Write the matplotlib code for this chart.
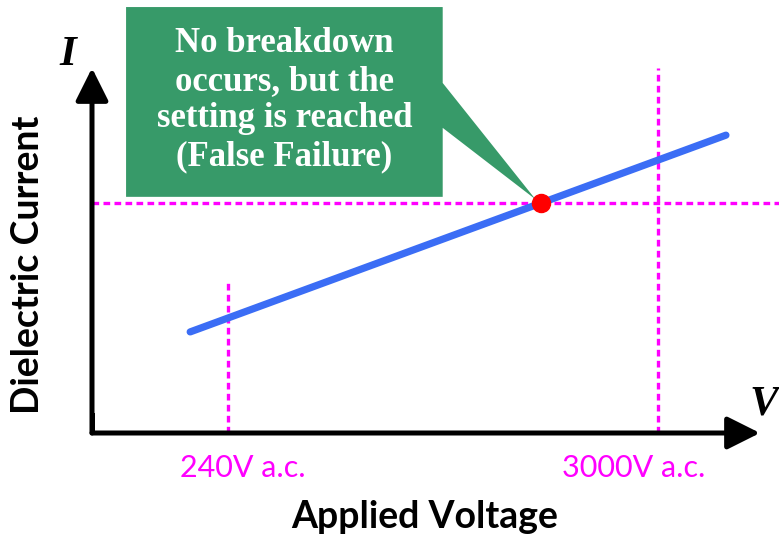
import matplotlib.pyplot as plt
from matplotlib.patches import Polygon

# voltage markers (abstract axis units, 0..100)
marker_x = [20.4, 84.7]
marker_labels = ['240V a.c.', '3000V a.c.']
marker_label_x = [22.6, 81.1]
marker_top = [41.9, 100.0]

# dielectric current vs voltage line
line_x = [14.7, 94.9]
line_y = [27.7, 81.6]

# point where the setting is reached
hit_x = 67.2
hit_y = 63.0

callout_text = 'No breakdown\noccurs, but the\nsetting is reached\n(False Failure)'

magenta = '#ff00ff'
green = '#379a69'
blue = '#3b6df5'


def main():
    fig = plt.figure(figsize=(7.79, 5.38), dpi=100)
    W, H = 779, 538
    ax = fig.add_axes([92 / W, (H - 433) / H, (760 - 92) / W, (433 - 68) / H])
    ax.set_xlim(0, 100)
    ax.set_ylim(0, 100)
    ax.axis('off')

    # dashed guide lines
    dash = (0, (2.0, 1.3))
    for x, top in zip(marker_x, marker_top):
        ax.plot([x, x], [0, top], color=magenta, lw=2.4, ls=dash, clip_on=False, zorder=2)
    ax.plot([0, 102.8], [hit_y, hit_y], color=magenta, lw=2.4, ls=dash, clip_on=False, zorder=2)

    # axes with arrow heads
    ax.plot([0, 0, 5], [5, 0, 0], color='k', lw=3.6, solid_joinstyle='miter', zorder=4)
    style = '-|>,head_length=1.0,head_width=0.5'
    ax.annotate('', xy=(100, 0), xytext=(0, 0), annotation_clip=False,
                arrowprops=dict(arrowstyle=style, lw=3.6, color='k', mutation_scale=20, shrinkA=0, shrinkB=0), zorder=4)
    ax.annotate('', xy=(0, 100), xytext=(0, 0), annotation_clip=False,
                arrowprops=dict(arrowstyle=style, lw=3.6, color='k', mutation_scale=20, shrinkA=0, shrinkB=0), zorder=4)

    # main line and point
    ax.plot(line_x, line_y, color=blue, lw=5.2, solid_capstyle='round', zorder=3)
    ax.plot([hit_x], [hit_y], 'o', color='red', ms=13, zorder=5, clip_on=False)

    # callout box with pointer
    bx0, bx1, by0, by1 = 5.1, 52.5, 64.7, 116.7
    verts = [(bx0, by0), (bx1, by0), (bx1, 83.6), (hit_x - 0.8, hit_y + 1.0),
             (bx1, 95.9), (bx1, by1), (bx0, by1)]
    ax.add_patch(Polygon(verts, closed=True, facecolor=green, edgecolor='none', clip_on=False, zorder=3))
    ax.text((bx0 + bx1) / 2, (by0 + by1) / 2 + 0.5, callout_text, ha='center', va='center', color='white',
            fontsize=25, fontweight='bold', family='Liberation Serif', linespacing=1.18, zorder=6)

    # voltage labels
    for x, lab in zip(marker_label_x, marker_labels):
        ax.text(x, -9.5, lab, ha='center', va='center', color=magenta, fontsize=22, family='Lato', clip_on=False)

    # axis symbols
    ax.text(-3.6, 103.6, 'I', ha='center', va='center', fontsize=31, style='italic', fontweight='bold',
            family='Liberation Serif')
    ax.text(102.7, 7.7, 'V', ha='right', va='center', fontsize=31, style='italic', fontweight='bold',
            family='Liberation Serif')

    fig.text(425 / W, 1 - 517 / H, 'Applied Voltage', ha='center', va='center', fontsize=27,
             fontweight='bold', family='Lato')
    fig.text(28 / W, 1 - 265 / H, 'Dielectric Current', ha='center', va='center', fontsize=27,
             fontweight='bold', family='Lato', rotation=90)

    fig.savefig('out.png', dpi=100)


if __name__ == "__main__":
    main()
